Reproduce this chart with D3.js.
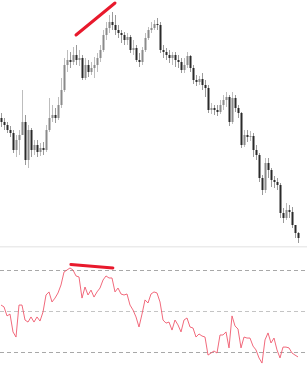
<!DOCTYPE html>
<html><head><meta charset="utf-8">
<script src="https://cdn.jsdelivr.net/npm/d3@7/dist/d3.min.js"></script>
<style>html,body{margin:0;padding:0;background:#fff;overflow:hidden}</style>
</head><body>
<script>
// price candles (arbitrary price units)
const open  = [132,128,125,120,117,100,110,115,128,90,120,100,105,98,102,100,120,132,135,132,145,160,185,190,188,195,190,192,172,185,178,182,185,192,200,215,222,228,225,220,217,215,210,213,200,202,190,188,200,212,220,222,226,225,200,198,195,192,195,190,188,180,185,194,182,170,168,171,165,162,140,142,140,138,145,150,153,128,152,142,137,105,115,113,114,100,95,72,60,87,80,70,68,65,37,32,40,38,25,17];
const high  = [137,132,128,124,120,115,120,160,135,125,122,110,110,107,108,125,152,145,142,153,172,192,200,198,203,205,200,195,192,190,188,193,197,205,220,228,235,238,235,225,220,218,217,215,210,205,197,203,217,223,228,230,232,228,205,202,200,198,198,195,192,192,198,195,185,175,174,177,170,165,147,145,145,150,155,158,155,158,155,145,138,120,120,119,117,105,97,75,92,92,82,74,72,67,42,47,45,43,25,18];
const low   = [123,120,117,113,97,93,95,115,85,82,93,95,93,94,95,98,118,128,127,130,142,158,178,182,185,185,184,170,170,173,175,172,178,188,198,210,217,220,215,212,207,205,205,197,195,188,183,185,198,210,217,220,220,197,192,190,187,185,183,182,177,177,182,178,166,164,165,160,153,137,136,135,134,136,140,143,124,126,138,132,102,103,108,109,93,90,68,55,57,72,63,62,60,32,27,30,32,22,12,7];
const close = [128,125,120,117,100,110,115,128,90,120,100,105,98,102,100,120,132,135,132,145,160,185,190,188,195,190,192,172,185,178,182,185,192,200,215,222,228,225,220,217,215,210,213,200,202,190,188,200,212,220,222,226,225,200,198,195,192,195,190,188,180,185,194,182,170,168,171,165,162,140,142,140,138,145,150,153,128,152,142,137,105,115,113,114,100,95,72,60,87,80,70,68,65,37,32,40,38,25,17,12];
// RSI indicator
const rsi = [52.9,52.0,47.6,48.5,39.8,37.3,52.9,52.9,45.6,44.6,47.1,44.6,47.1,45.1,49.5,57.8,59.3,54.4,56.3,58.8,62.7,69.0,70.0,71.0,70.0,67.1,66.6,56.3,61.7,57.8,60.2,56.8,59.3,61.2,65.1,67.1,66.1,66.1,59.3,61.2,58.3,57.8,58.3,52.9,50.5,47.1,42.2,48.5,55.4,53.9,58.3,59.3,58.8,54.4,45.6,44.1,44.6,40.7,45.6,43.2,39.8,45.6,46.6,42.2,41.7,37.3,38.8,37.8,37.3,28.5,29.5,30.5,29.5,38.3,38.3,39.8,32.0,47.6,42.7,41.2,32.0,37.3,36.8,36.8,32.9,31.0,27.1,24.6,35.9,39.3,34.4,36.8,31.0,27.1,32.4,32.4,32.0,29.5,28.5,27.6];
const rsiLevels = [70, 50, 30];
// divergence lines: [index, value]
const priceTrend = [[25, 215], [38, 247]];
const rsiTrend = [[23.3, 72.7], [37.3, 71.0]];

const W = 307, H = 390;
const svg = d3.select("body").append("svg").attr("width", W).attr("height", H);
const N = close.length;
const x = d3.scaleLinear().domain([0, N - 1]).range([1, 298]);
const y = d3.scaleLinear().domain([0, 250]).range([250, 0]);
const yr = d3.scaleLinear().domain([30, 70]).range([352, 270]);

// separator
svg.append("rect").attr("x", 0).attr("y", 246).attr("width", W).attr("height", 1.5).attr("fill", "#ebebeb");

// candles
const g = svg.append("g");
d3.range(N).forEach(i => {
  const up = close[i] >= open[i];
  const cx = Math.round(x(i)) + 0.5;
  g.append("line").attr("x1", cx).attr("x2", cx).attr("y1", y(high[i])).attr("y2", y(low[i]))
    .attr("stroke", up ? "#bdbdbd" : "#9a9a9a").attr("stroke-width", 1);
  const top = y(Math.max(open[i], close[i])), bot = y(Math.min(open[i], close[i]));
  g.append("rect").attr("x", cx - 1).attr("y", top).attr("width", 2).attr("height", Math.max(1, bot - top))
    .attr("fill", up ? "#8a8a8a" : "#2a2a2a");
});

// price trend line
svg.append("line")
  .attr("x1", x(priceTrend[0][0])).attr("y1", y(priceTrend[0][1]))
  .attr("x2", x(priceTrend[1][0])).attr("y2", y(priceTrend[1][1]))
  .attr("stroke", "#e8192c").attr("stroke-width", 3).attr("stroke-linecap", "round");

// RSI levels
svg.selectAll(".lvl").data(rsiLevels).enter().append("line")
  .attr("x1", 0).attr("x2", W).attr("y1", d => Math.round(yr(d)) + 0.5).attr("y2", d => Math.round(yr(d)) + 0.5)
  .attr("stroke", d => d === 50 ? "#c4c4c4" : "#a8a8a8").attr("stroke-width", 1).attr("stroke-dasharray", "4,3");

// RSI line
svg.append("path").datum(rsi)
  .attr("d", d3.line().x((d, i) => x(i)).y(d => yr(d)))
  .attr("fill", "none").attr("stroke", "#ef5a6e").attr("stroke-width", 1).attr("opacity", 0.9);

// RSI trend line
svg.append("line")
  .attr("x1", x(rsiTrend[0][0])).attr("y1", yr(rsiTrend[0][1]))
  .attr("x2", x(rsiTrend[1][0])).attr("y2", yr(rsiTrend[1][1]))
  .attr("stroke", "#e8192c").attr("stroke-width", 3).attr("stroke-linecap", "round");
</script>
</body></html>
